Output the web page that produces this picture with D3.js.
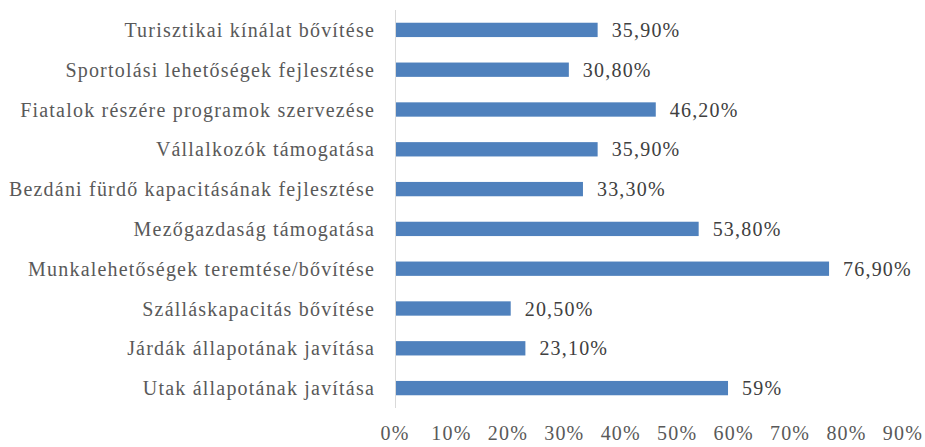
<!DOCTYPE html>
<html>
<head>
<meta charset="utf-8">
<script src="https://cdn.jsdelivr.net/npm/d3@7"></script>
<style>
  body { margin: 0; background: #fff; }
  text { font-family: "Liberation Serif", "DejaVu Serif", serif; letter-spacing: 1.2px; }
</style>
</head>
<body>
<svg id="chart"></svg>
<script>
var categories = [
  "Turisztikai kínálat bővítése",
  "Sportolási lehetőségek fejlesztése",
  "Fiatalok részére programok szervezése",
  "Vállalkozók támogatása",
  "Bezdáni fürdő kapacitásának fejlesztése",
  "Mezőgazdaság támogatása",
  "Munkalehetőségek teremtése/bővítése",
  "Szálláskapacitás bővítése",
  "Járdák állapotának javítása",
  "Utak állapotának javítása"
];
var values = [35.9, 30.8, 46.2, 35.9, 33.3, 53.8, 76.9, 20.5, 23.1, 59];
var valueLabels = ["35,90%", "30,80%", "46,20%", "35,90%", "33,30%", "53,80%", "76,90%", "20,50%", "23,10%", "59%"];
var ticks = [0, 10, 20, 30, 40, 50, 60, 70, 80, 90];

var W = 925, H = 447;
var margin = {top: 10, right: 22, bottom: 39, left: 395};

var svg = d3.select("#chart").attr("width", W).attr("height", H);
var g = svg.append("g").attr("transform", "translate(" + margin.left + "," + margin.top + ")");
var iw = W - margin.left - margin.right, ih = H - margin.top - margin.bottom;

var x = d3.scaleLinear().domain([0, 90]).range([0, 508]);
var y = d3.scaleBand().domain(categories).range([0, ih]).paddingInner(0.64).paddingOuter(0.32);

// bars
g.selectAll("rect.bar")
  .data(values)
  .enter().append("rect")
  .attr("class", "bar")
  .attr("x", 0)
  .attr("y", function(d, i) { return y(categories[i]); })
  .attr("width", function(d) { return x(d); })
  .attr("height", y.bandwidth())
  .attr("fill", "#4f81bd");

// value labels
g.selectAll("text.val")
  .data(values)
  .enter().append("text")
  .attr("class", "val")
  .attr("x", function(d) { return x(d) + 14; })
  .attr("y", function(d, i) { return y(categories[i]) + y.bandwidth() / 2; })
  .attr("dy", "0.35em")
  .attr("font-size", 20)
  .attr("fill", "#404040")
  .text(function(d, i) { return valueLabels[i]; });

// category labels
g.selectAll("text.cat")
  .data(categories)
  .enter().append("text")
  .attr("class", "cat")
  .attr("x", -20)
  .attr("y", function(d) { return y(d) + y.bandwidth() / 2; })
  .attr("dy", "0.35em")
  .attr("text-anchor", "end")
  .attr("font-size", 20)
  .attr("fill", "#595959")
  .text(function(d) { return d; });

// vertical axis line
g.append("line")
  .attr("x1", 0.5).attr("x2", 0.5)
  .attr("y1", 0).attr("y2", ih)
  .attr("stroke", "#d9d9d9");

// x tick labels
g.selectAll("text.tick")
  .data(ticks)
  .enter().append("text")
  .attr("class", "tick")
  .attr("x", function(d) { return x(d); })
  .attr("y", ih + 25)
  .attr("dy", "0.35em")
  .attr("text-anchor", "middle")
  .attr("font-size", 20)
  .attr("fill", "#595959")
  .text(function(d) { return d + "%"; });
</script>
</body>
</html>
